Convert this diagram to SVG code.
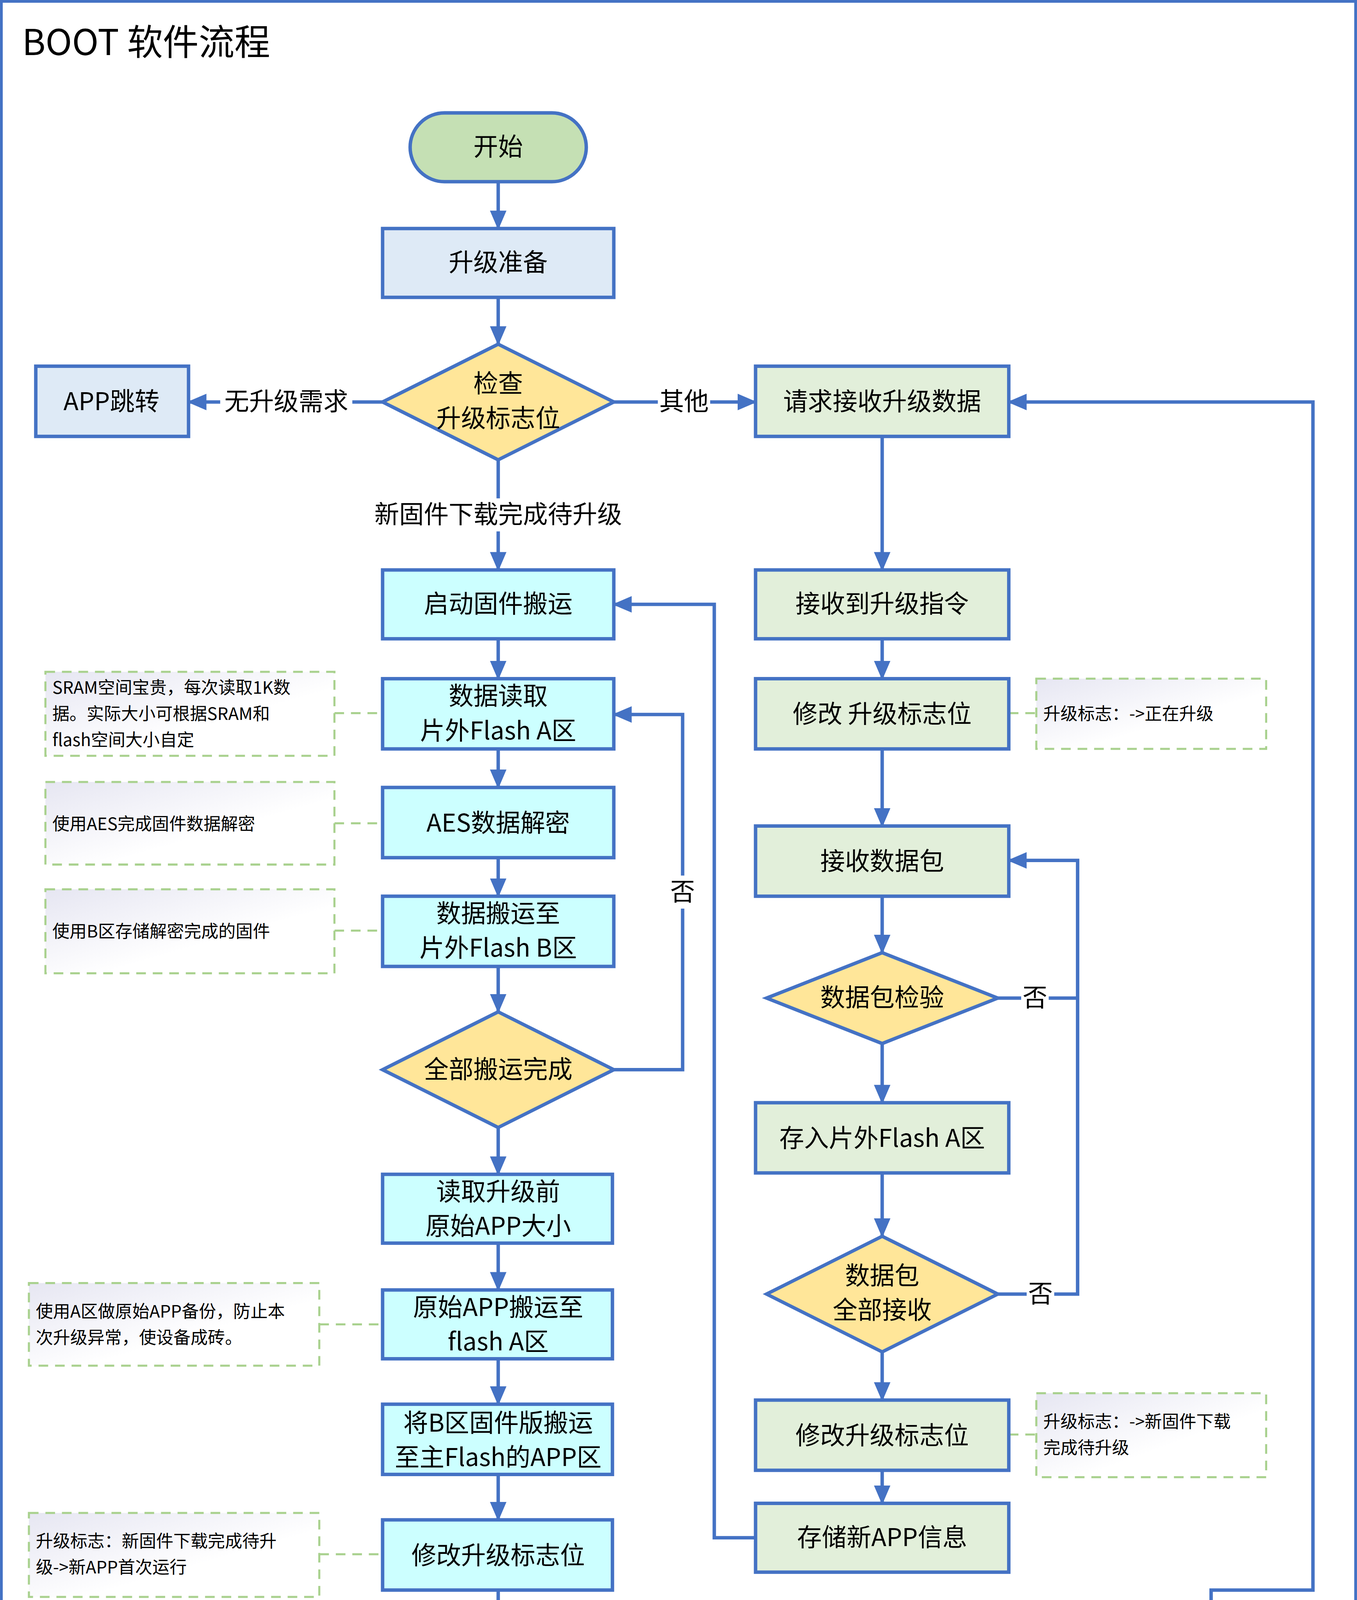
<svg xmlns="http://www.w3.org/2000/svg" width="3475" height="5525" viewBox="0 0 3475 5525">
<defs>
<style>
.b{stroke:#4472C4;stroke-width:2.5}
.lb{fill:#DEEAF6}.cy{fill:#CCFFFF}.gr{fill:#E2EFDA}.dm{fill:#FFE699}.rd{fill:#FF0000}
.t{font-family:"Noto Sans CJK SC","Noto Sans",sans-serif;font-size:18px;text-anchor:middle;fill:#000}
.n{font-family:"Noto Sans CJK SC","Noto Sans",sans-serif;font-size:12.5px;fill:#000}
.c{fill:none;stroke:#4472C4;stroke-width:2.5}
.a{marker-end:url(#ar)}
.nt{fill:url(#ng);stroke:#A9D18E;stroke-width:1.5;stroke-dasharray:7 5}
.nl{fill:none;stroke:#A9D18E;stroke-width:1.5;stroke-dasharray:7 5}
.lbl{font-family:"Noto Sans CJK SC","Noto Sans",sans-serif;font-size:18px;text-anchor:middle}
</style>
<marker id="ar" markerUnits="userSpaceOnUse" markerWidth="14" markerHeight="14" viewBox="0 0 14 14" refX="13" refY="7" orient="auto"><path d="M0,1 L14,7 L0,13 Z" fill="#4472C4"/></marker>
<linearGradient id="ng" x1="0" y1="0" x2="1" y2="1"><stop offset="0" stop-color="#E6E6F2"/><stop offset="0.6" stop-color="#FFFFFF"/></linearGradient>
</defs>
<rect width="3475" height="5525" fill="#fff"/>
<g transform="scale(3.5243)">
<rect x="1" y="1" width="984" height="1565" fill="none" stroke="#4472C4" stroke-width="2"/>
<text x="16" y="40" font-family="Noto Sans CJK SC,Noto Sans,sans-serif" font-size="26">BOOT 软件流程</text>

<g id="connectors">
<path class="c a" d="M362,132V166"/>
<path class="c a" d="M362,216V250"/>
<path class="c a" d="M278,292H137"/>
<path class="c a" d="M446,292H549"/>
<path class="c a" d="M362,334V414"/>
<path class="c a" d="M362,464V493"/>
<path class="c a" d="M362,544V572"/>
<path class="c a" d="M362,623V651"/>
<path class="c a" d="M362,702V735"/>
<path class="c a" d="M446,777H496V519H446"/>
<path class="c a" d="M362,819V853"/>
<path class="c a" d="M362,903V937"/>
<path class="c a" d="M362,987V1020"/>
<path class="c a" d="M362,1071V1104"/>
<path class="c a" d="M362,1155V1188"/>
<path class="c a" d="M446,1230H537"/>
<path class="c a" d="M362,1272V1305"/>
<path class="c a" d="M362,1356V1400"/>
<path class="c a" d="M362,1450V1496"/>
<path class="c a" d="M641,317V414"/>
<path class="c a" d="M641,464V493"/>
<path class="c a" d="M641,544V600"/>
<path class="c a" d="M641,651V692"/>
<path class="c a" d="M641,758V801"/>
<path class="c a" d="M641,852V898"/>
<path class="c a" d="M641,982V1017"/>
<path class="c a" d="M641,1068V1092"/>
<path class="c" d="M725,725H783"/>
<path class="c a" d="M725,940H783V625H733"/>
<path class="c a" d="M549,1117H519V439H446"/>
<path class="c a" d="M880,1205V1155H954V292H733"/>
<path class="c a" d="M643,1255V1287"/>
<path class="c a" d="M727,1329H797"/>
<path class="c a" d="M643,1371V1400"/>
<path class="c a" d="M559,1425H446"/>
<path class="c a" d="M880,1304V1255"/>
<path class="nl" d="M243,518H278M243,598H278M243,676H278M232,962H278M232,1129H278M232,1230H278M232,1330H278M733,518H753M733,1042H753M880,1354V1396"/>
<rect x="160" y="280" width="96" height="24" fill="#fff"/><text class="lbl" x="208" y="298">无升级需求</text>
<rect x="478" y="280" width="38" height="24" fill="#fff"/><text class="lbl" x="497" y="298">其他</text>
<rect x="266" y="362" width="192" height="24" fill="#fff"/><text class="lbl" x="362" y="380">新固件下载完成待升级</text>
<rect x="486" y="636" width="20" height="24" fill="#fff"/><text class="lbl" x="496" y="654">否</text>
<rect x="742" y="713" width="20" height="24" fill="#fff"/><text class="lbl" x="752" y="731">否</text>
<rect x="746" y="928" width="20" height="24" fill="#fff"/><text class="lbl" x="756" y="946">否</text>
<rect x="481" y="1218" width="20" height="24" fill="#fff"/><text class="lbl" x="491" y="1236" fill="#FF0000">否</text>
<rect x="752" y="1317" width="20" height="24" fill="#fff"/><text class="lbl" x="762" y="1335" fill="#FF0000">否</text>
</g>

<g id="start"><rect class="b" x="298" y="82" width="128" height="50" rx="25" fill="#C5E0B4"/><text class="t" x="362" y="113">开始</text></g>
<g id="prep"><rect class="b lb" x="278" y="166" width="168" height="50"/><text class="t" x="362" y="197">升级准备</text></g>
<g id="check"><path class="b dm" d="M362,250L446,292L362,334L278,292Z"/><text class="t" x="362" y="285">检查</text><text class="t" x="362" y="310">升级标志位</text></g>
<g id="appjump1"><rect class="b lb" x="26" y="266" width="111" height="51"/><text class="t" x="81" y="298">APP跳转</text></g>
<g id="reqrecv"><rect class="b gr" x="549" y="266" width="184" height="51"/><text class="t" x="641" y="298">请求接收升级数据</text></g>
<g id="startmove"><rect class="b cy" x="278" y="414" width="168" height="50"/><text class="t" x="362" y="445">启动固件搬运</text></g>
<g id="read"><rect class="b cy" x="278" y="493" width="168" height="51"/><text class="t" x="362" y="512">数据读取</text><text class="t" x="362" y="537">片外Flash A区</text></g>
<g id="aes"><rect class="b cy" x="278" y="572" width="168" height="51"/><text class="t" x="362" y="604">AES数据解密</text></g>
<g id="moveB"><rect class="b cy" x="278" y="651" width="168" height="51"/><text class="t" x="362" y="670">数据搬运至</text><text class="t" x="362" y="695">片外Flash B区</text></g>
<g id="alldone"><path class="b dm" d="M362,735L446,777L362,819L278,777Z"/><text class="t" x="362" y="783">全部搬运完成</text></g>
<g id="readsize"><rect class="b cy" x="278" y="853" width="167" height="50"/><text class="t" x="362" y="872">读取升级前</text><text class="t" x="362" y="897">原始APP大小</text></g>
<g id="backupA"><rect class="b cy" x="278" y="937" width="167" height="50"/><text class="t" x="362" y="956">原始APP搬运至</text><text class="t" x="362" y="981">flash A区</text></g>
<g id="copyB"><rect class="b cy" x="278" y="1020" width="167" height="51"/><text class="t" x="362" y="1040">将B区固件版搬运</text><text class="t" x="362" y="1065">至主Flash的APP区</text></g>
<g id="flag1"><rect class="b cy" x="278" y="1104" width="167" height="51"/><text class="t" x="362" y="1136">修改升级标志位</text></g>
<g id="newcheck"><path class="b dm" d="M362,1188L446,1230L362,1272L278,1230Z"/><text class="t" x="362" y="1223">新APP</text><text class="t" x="362" y="1248">合法性检验</text></g>
<g id="flag2"><rect class="b lb" x="278" y="1305" width="167" height="51"/><text class="t" x="362" y="1337">修改升级标志位</text></g>
<g id="appjump2"><rect class="b lb" x="278" y="1400" width="167" height="50"/><text class="t" x="362" y="1431">APP跳转</text></g>
<g id="end"><rect class="b" x="298" y="1496" width="128" height="50" rx="25" fill="#FFC000"/><text class="t" x="362" y="1527">结束</text></g>

<g id="gotcmd"><rect class="b gr" x="549" y="414" width="184" height="50"/><text class="t" x="641" y="445">接收到升级指令</text></g>
<g id="flagR1"><rect class="b gr" x="549" y="493" width="184" height="51"/><text class="t" x="641" y="525">修改 升级标志位</text></g>
<g id="recvpkt"><rect class="b gr" x="549" y="600" width="184" height="51"/><text class="t" x="641" y="632">接收数据包</text></g>
<g id="pktcheck"><path class="b dm" d="M641,692L725,725L641,758L557,725Z"/><text class="t" x="641" y="731">数据包检验</text></g>
<g id="storeA"><rect class="b gr" x="549" y="801" width="184" height="51"/><text class="t" x="641" y="833">存入片外Flash A区</text></g>
<g id="allrecv"><path class="b dm" d="M641,898L725,940L641,982L557,940Z"/><text class="t" x="641" y="933">数据包</text><text class="t" x="641" y="958">全部接收</text></g>
<g id="flagR2"><rect class="b gr" x="549" y="1017" width="184" height="51"/><text class="t" x="641" y="1049">修改升级标志位</text></g>
<g id="storeinfo"><rect class="b gr" x="549" y="1092" width="184" height="50"/><text class="t" x="641" y="1123">存储新APP信息</text></g>

<g id="restore"><rect class="b lb" x="537" y="1204" width="211" height="51"/><text class="t" x="643" y="1223">将A区备份APP重新复制</text><text class="t" x="643" y="1248">到主Flash的APP区</text></g>
<g id="oldcheck"><path class="b dm" d="M643,1287L727,1329L643,1371L559,1329Z"/><text class="t" x="643" y="1322">旧APP</text><text class="t" x="643" y="1347">合法性检验</text></g>
<g id="report"><rect class="b rd" x="559" y="1400" width="167" height="51"/><text class="t" x="643" y="1432">报告升级异常</text></g>
<g id="flag3"><rect class="b lb" x="797" y="1304" width="167" height="50"/><text class="t" x="880" y="1335">修改升级标志位</text></g>
<g id="reqagain"><rect class="b rd" x="797" y="1205" width="167" height="50"/><text class="t" x="880" y="1236">请求重新升级</text></g>

<g id="note1"><rect class="nt" x="33" y="488" width="210" height="61"/><text class="n" x="38" y="504">SRAM空间宝贵，每次读取1K数</text><text class="n" x="38" y="523">据。实际大小可根据SRAM和</text><text class="n" x="38" y="542">flash空间大小自定</text></g>
<g id="note2"><rect class="nt" x="33" y="568" width="210" height="60"/><text class="n" x="38" y="603">使用AES完成固件数据解密</text></g>
<g id="note3"><rect class="nt" x="33" y="646" width="210" height="61"/><text class="n" x="38" y="681">使用B区存储解密完成的固件</text></g>
<g id="note4"><rect class="nt" x="21" y="932" width="211" height="60"/><text class="n" x="26" y="957">使用A区做原始APP备份，防止本</text><text class="n" x="26" y="976">次升级异常，使设备成砖。</text></g>
<g id="note5"><rect class="nt" x="21" y="1099" width="211" height="61"/><text class="n" x="26" y="1124">升级标志：新固件下载完成待升</text><text class="n" x="26" y="1143">级->新APP首次运行</text></g>
<g id="note6"><rect class="nt" x="21" y="1200" width="211" height="60"/><text class="n" x="26" y="1225">升级标志：新固件下载完成待升</text><text class="n" x="26" y="1243">级->新APP首次运行</text></g>
<g id="note7"><rect class="nt" x="21" y="1300" width="211" height="61"/><text class="n" x="26" y="1326">升级标志：新APP首次运行->无</text><text class="n" x="26" y="1345">升级需求</text></g>
<g id="note8"><rect class="nt" x="753" y="493" width="167" height="51"/><text class="n" x="758" y="523">升级标志：->正在升级</text></g>
<g id="note9"><rect class="nt" x="753" y="1012" width="167" height="61"/><text class="n" x="758" y="1037">升级标志：->新固件下载</text><text class="n" x="758" y="1056">完成待升级</text></g>
<g id="note10"><rect class="nt" x="797" y="1396" width="167" height="60"/><text class="n" x="802" y="1431">升级标志：>无固件可用</text></g>
</g>
</svg>
